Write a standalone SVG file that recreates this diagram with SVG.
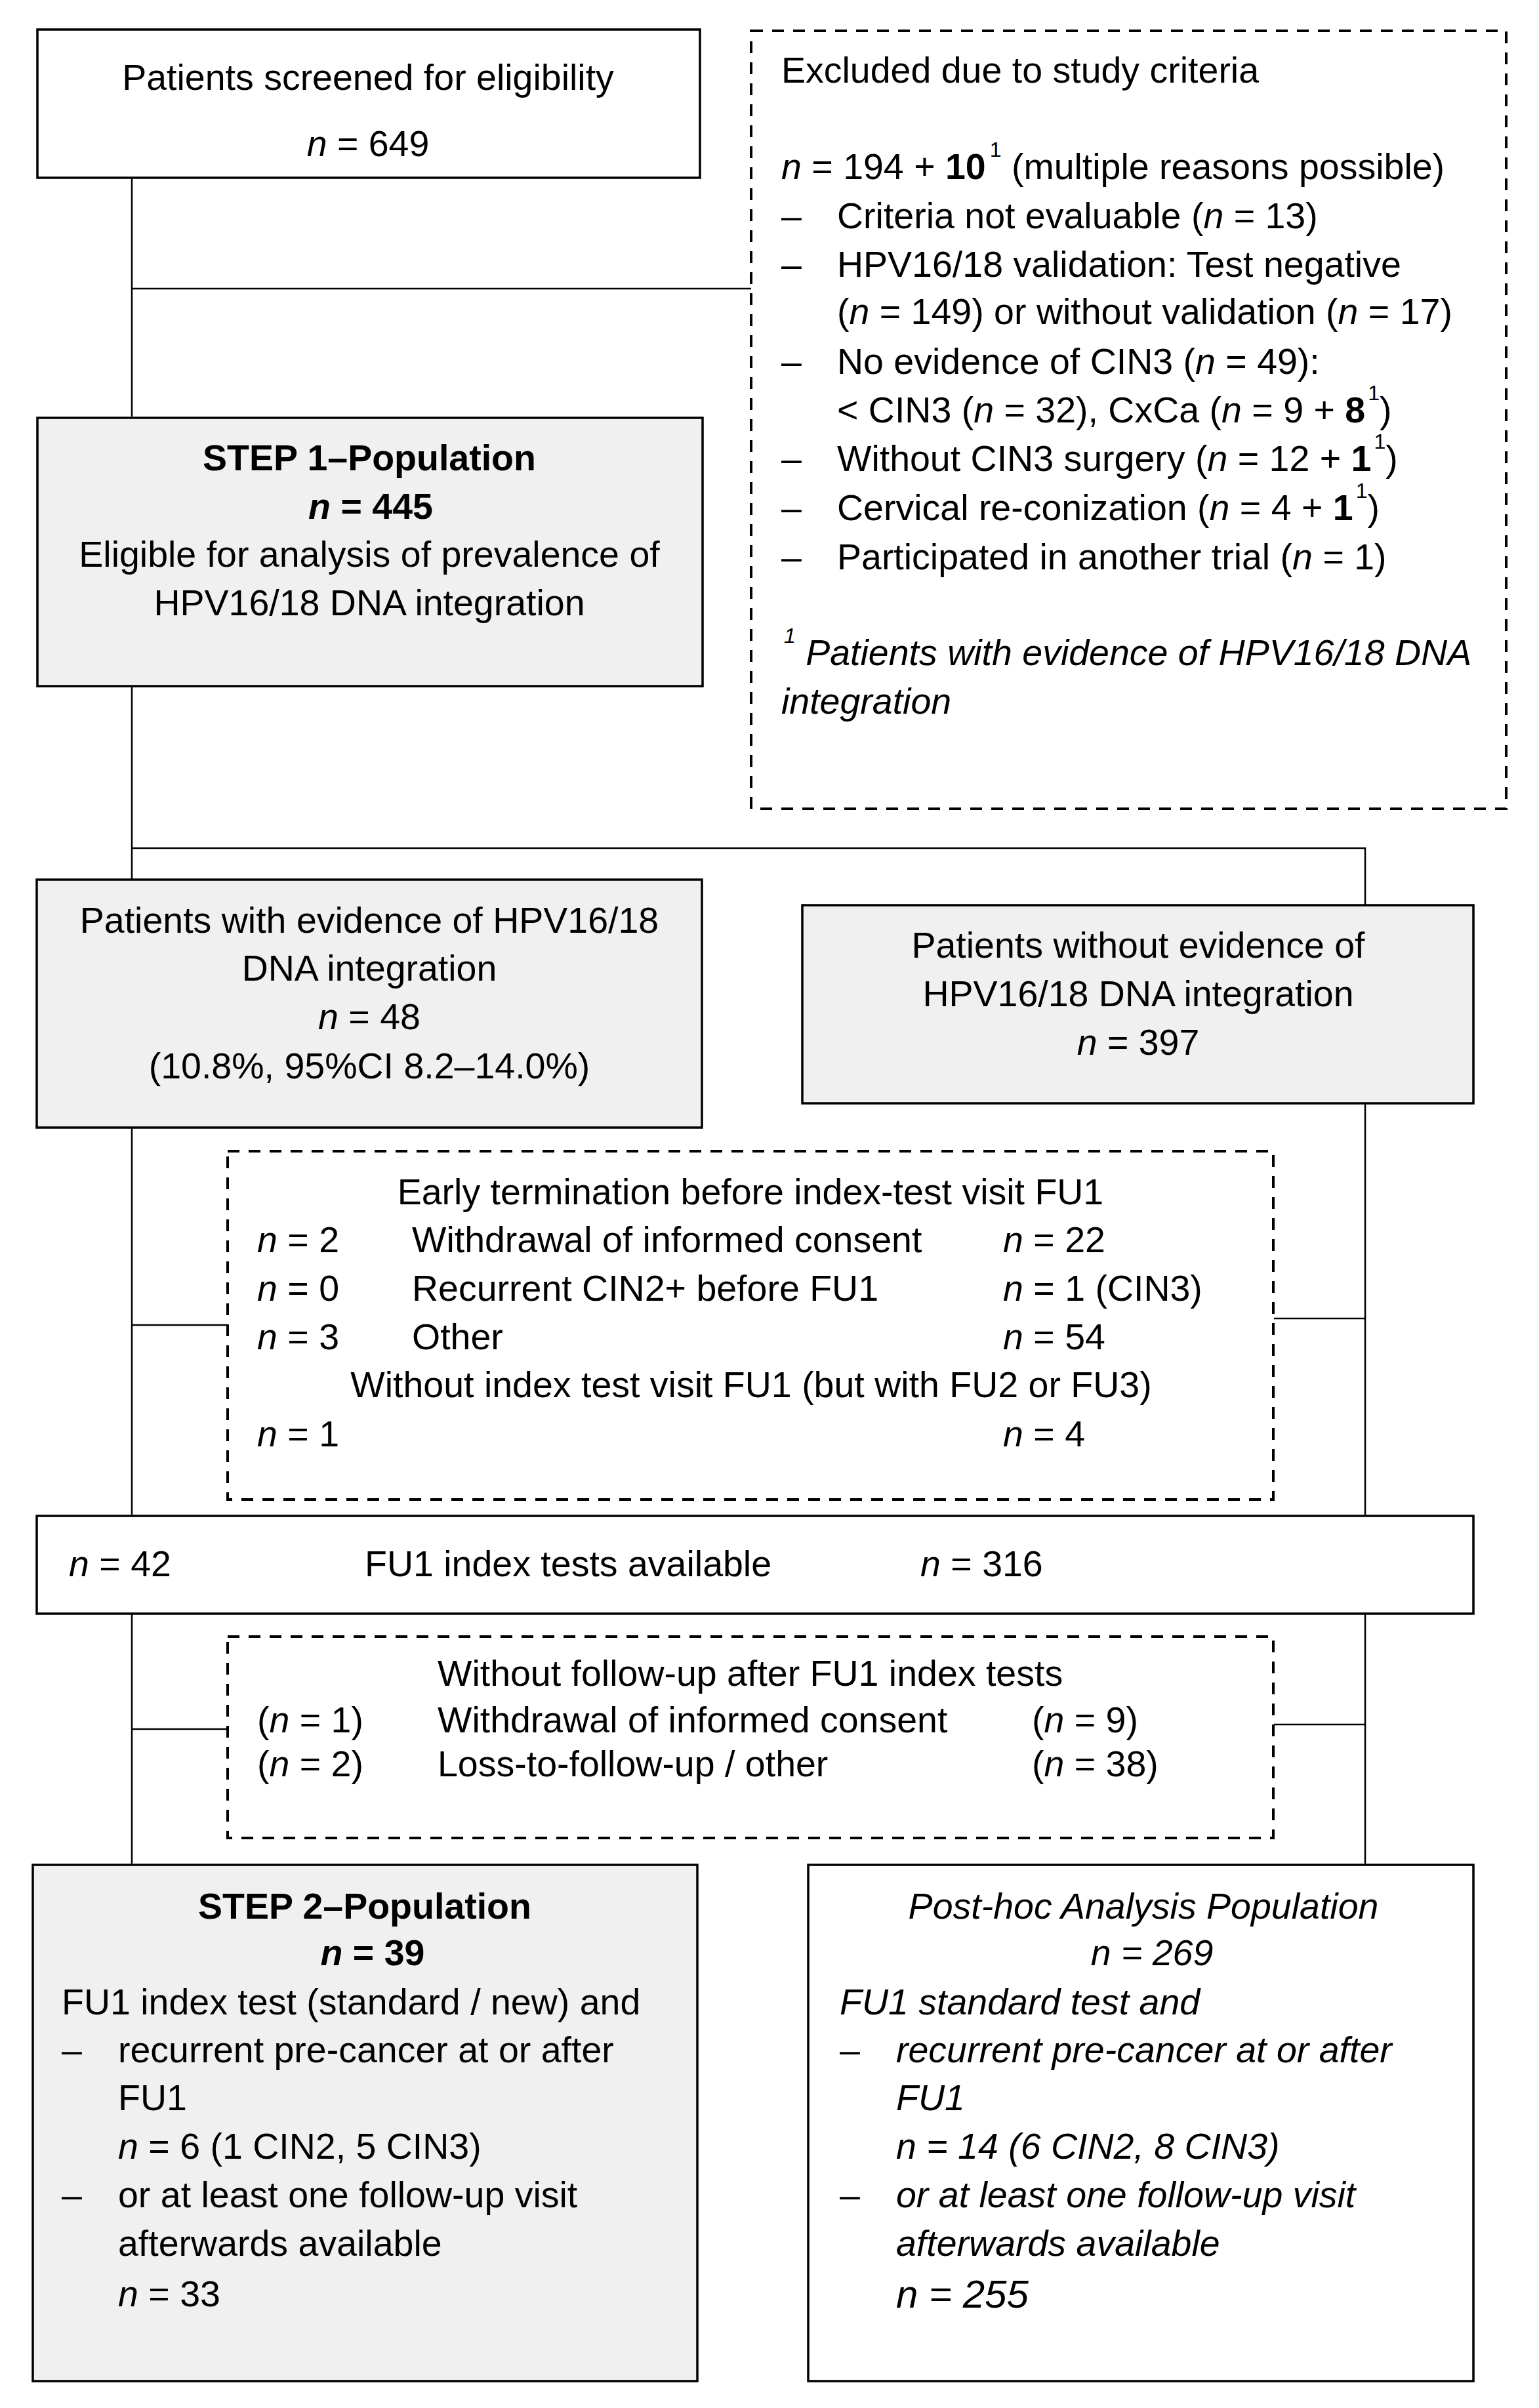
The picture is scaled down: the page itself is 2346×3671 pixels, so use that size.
<svg xmlns="http://www.w3.org/2000/svg" width="2346" height="3671" viewBox="0 0 2346 3671">
<style>
text{font-family:"Liberation Sans",Arial,Helvetica,sans-serif;font-size:55.5px;fill:#000}
.c{text-anchor:middle}
.i{font-style:italic}
.b{font-weight:bold}
.sup{font-size:32px}
.big{font-size:60px}
.box{fill:#fff;stroke:#000;stroke-width:3.5}
.gray{fill:#f0f0f0}
.dash{fill:#fff;stroke:#000;stroke-width:4;stroke-dasharray:18 14}
.conn{stroke:#000;stroke-width:2.5;fill:none}
</style>
<rect width="2346" height="3671" fill="#fff"/>
<g id="connectors">
<path class="conn" d="M201,272 V635 M201,440 H1145"/>
<path class="conn" d="M201,1047 V1340 M201,1293 H2081 V1379"/>
<path class="conn" d="M201,1720 V2309 M201,2020 H347"/>
<path class="conn" d="M2081,1683 V2309 M1942,2010 H2081"/>
<path class="conn" d="M201,2461 V2841 M201,2636 H347"/>
<path class="conn" d="M2081,2461 V2841 M1942,2629 H2081"/>
</g>
<g id="screened">
<rect class="box" x="57" y="45" width="1010" height="226"/>
<text class="c" x="561" y="137">Patients screened for eligibility</text>
<text class="c" x="561" y="238"><tspan class="i">n</tspan> = 649</text>
</g>
<g id="excluded">
<rect class="dash" x="1145" y="47" width="1151" height="1186"/>
<text x="1191" y="126">Excluded due to study criteria</text>
<text x="1191" y="273"><tspan class="i">n</tspan> = 194 + <tspan class="b">10</tspan><tspan class="sup" dy="-34" dx="6">1</tspan><tspan dy="34"> (multiple reasons possible)</tspan></text>
<text x="1191" y="348">–</text><text x="1276" y="348">Criteria not evaluable (<tspan class="i">n</tspan> = 13)</text>
<text x="1191" y="422">–</text><text x="1276" y="422">HPV16/18 validation: Test negative</text>
<text x="1276" y="494">(<tspan class="i">n</tspan> = 149) or without validation (<tspan class="i">n</tspan> = 17)</text>
<text x="1191" y="570">–</text><text x="1276" y="570">No evidence of CIN3 (<tspan class="i">n</tspan> = 49):</text>
<text x="1276" y="644">&lt; CIN3 (<tspan class="i">n</tspan> = 32), CxCa (<tspan class="i">n</tspan> = 9 + <tspan class="b">8</tspan><tspan class="sup" dy="-34" dx="4">1</tspan><tspan dy="34">)</tspan></text>
<text x="1191" y="718">–</text><text x="1276" y="718">Without CIN3 surgery (<tspan class="i">n</tspan> = 12 + <tspan class="b">1</tspan><tspan class="sup" dy="-34" dx="4">1</tspan><tspan dy="34">)</tspan></text>
<text x="1191" y="793">–</text><text x="1276" y="793">Cervical re-conization (<tspan class="i">n</tspan> = 4 + <tspan class="b">1</tspan><tspan class="sup" dy="-34" dx="4">1</tspan><tspan dy="34">)</tspan></text>
<text x="1191" y="868">–</text><text x="1276" y="868">Participated in another trial (<tspan class="i">n</tspan> = 1)</text>
<text class="i" x="1195" y="1014"><tspan class="sup" dy="-34">1</tspan><tspan dy="34"> Patients with evidence of HPV16/18 DNA</tspan></text>
<text class="i" x="1191" y="1088">integration</text>
</g>
<g id="step1">
<rect class="box gray" x="57" y="637" width="1014" height="409"/>
<text class="c b" x="563" y="717">STEP 1–Population</text>
<text class="c b" x="565" y="791"><tspan class="i">n</tspan> = 445</text>
<text class="c" x="563" y="864">Eligible for analysis of prevalence of</text>
<text class="c" x="563" y="938">HPV16/18 DNA integration</text>
</g>
<g id="with-integration">
<rect class="box gray" x="56" y="1341" width="1014" height="378"/>
<text class="c" x="563" y="1422">Patients with evidence of HPV16/18</text>
<text class="c" x="563" y="1495">DNA integration</text>
<text class="c" x="563" y="1569"><tspan class="i">n</tspan> = 48</text>
<text class="c" x="563" y="1644">(10.8%, 95%CI 8.2–14.0%)</text>
</g>
<g id="without-integration">
<rect class="box gray" x="1223" y="1380" width="1023" height="302"/>
<text class="c" x="1735" y="1460">Patients without evidence of</text>
<text class="c" x="1735" y="1534">HPV16/18 DNA integration</text>
<text class="c" x="1735" y="1608"><tspan class="i">n</tspan> = 397</text>
</g>
<g id="early-termination">
<rect class="dash" x="347" y="1755" width="1594" height="531"/>
<text class="c" x="1144" y="1836">Early termination before index-test visit FU1</text>
<text x="392" y="1909"><tspan class="i">n</tspan> = 2</text><text x="628" y="1909">Withdrawal of informed consent</text><text x="1529" y="1909"><tspan class="i">n</tspan> = 22</text>
<text x="392" y="1983"><tspan class="i">n</tspan> = 0</text><text x="628" y="1983">Recurrent CIN2+ before FU1</text><text x="1529" y="1983"><tspan class="i">n</tspan> = 1 (CIN3)</text>
<text x="392" y="2057"><tspan class="i">n</tspan> = 3</text><text x="628" y="2057">Other</text><text x="1529" y="2057"><tspan class="i">n</tspan> = 54</text>
<text class="c" x="1145" y="2130">Without index test visit FU1 (but with FU2 or FU3)</text>
<text x="392" y="2205"><tspan class="i">n</tspan> = 1</text><text x="1529" y="2205"><tspan class="i">n</tspan> = 4</text>
</g>
<g id="fu1">
<rect class="box" x="56" y="2311" width="2190" height="149"/>
<text x="105" y="2403"><tspan class="i">n</tspan> = 42</text>
<text x="556" y="2403">FU1 index tests available</text>
<text x="1403" y="2403"><tspan class="i">n</tspan> = 316</text>
</g>
<g id="no-followup">
<rect class="dash" x="347" y="2495" width="1594" height="307"/>
<text x="667" y="2570">Without follow-up after FU1 index tests</text>
<text x="392" y="2641">(<tspan class="i">n</tspan> = 1)</text><text x="667" y="2641">Withdrawal of informed consent</text><text x="1573" y="2641">(<tspan class="i">n</tspan> = 9)</text>
<text x="392" y="2708">(<tspan class="i">n</tspan> = 2)</text><text x="667" y="2708">Loss-to-follow-up / other</text><text x="1573" y="2708">(<tspan class="i">n</tspan> = 38)</text>
</g>
<g id="step2">
<rect class="box gray" x="50" y="2843" width="1013" height="787"/>
<text class="c b" x="556" y="2925">STEP 2–Population</text>
<text class="c b" x="568" y="2996"><tspan class="i">n</tspan> = 39</text>
<text x="94" y="3071">FU1 index test (standard / new) and</text>
<text x="94" y="3144">–</text><text x="180" y="3144">recurrent pre-cancer at or after</text>
<text x="180" y="3217">FU1</text>
<text x="180" y="3291"><tspan class="i">n</tspan> = 6 (1 CIN2, 5 CIN3)</text>
<text x="94" y="3365">–</text><text x="180" y="3365">or at least one follow-up visit</text>
<text x="180" y="3439">afterwards available</text>
<text x="180" y="3516"><tspan class="i">n</tspan> = 33</text>
</g>
<g id="posthoc">
<rect class="box" x="1232" y="2843" width="1014" height="787"/>
<text class="c i" x="1743" y="2925">Post-hoc Analysis Population</text>
<text class="c i" x="1756" y="2996">n = 269</text>
<text class="i" x="1280" y="3071">FU1 standard test and</text>
<text x="1280" y="3144">–</text><text class="i" x="1366" y="3144">recurrent pre-cancer at or after</text>
<text class="i" x="1366" y="3217">FU1</text>
<text class="i" x="1366" y="3291">n = 14 (6 CIN2, 8 CIN3)</text>
<text x="1280" y="3365">–</text><text class="i" x="1366" y="3365">or at least one follow-up visit</text>
<text class="i" x="1366" y="3439">afterwards available</text>
<text class="i big" x="1366" y="3518">n = 255</text>
</g>
</svg>
